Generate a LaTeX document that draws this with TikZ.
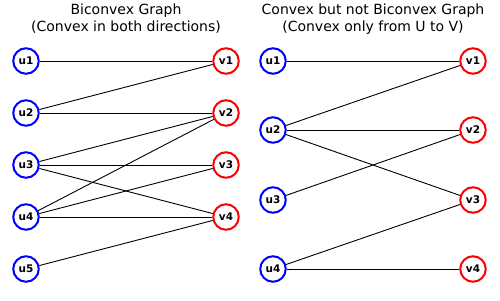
\documentclass[tikz,border=0pt]{standalone}
\usepackage{fontspec}
\setmainfont{DejaVu Sans}
\begin{document}
\begin{tikzpicture}[x=1pt,y=-1pt,
  gnode/.style={circle,line width=2pt,fill=white,minimum size=25.5pt,inner sep=0pt,font=\fontsize{10.5}{12}\selectfont\bfseries},
  unode/.style={gnode,draw=blue},
  vnode/.style={gnode,draw=red},
  edge/.style={line width=0.9pt,black},
  title/.style={align=center,font=\fontsize{14}{17}\selectfont}]
\useasboundingbox (0,0) rectangle (500,300);
\node[title] (t1) at (126,19) {Biconvex Graph\\(Convex in both directions)};
\node[title] (t2) at (373,19) {Convex but not Biconvex Graph\\(Convex only from U to V)};
% left graph
\node[unode] (a1) at (26,61) {u1};
\node[unode] (a2) at (26,113) {u2};
\node[unode] (a3) at (26,165) {u3};
\node[unode] (a4) at (26,217) {u4};
\node[unode] (a5) at (26,269) {u5};
\node[vnode] (b1) at (226,61) {v1};
\node[vnode] (b2) at (226,113) {v2};
\node[vnode] (b3) at (226,165) {v3};
\node[vnode] (b4) at (226,217) {v4};
\draw[edge] (a1) -- (b1);
\draw[edge] (a2) -- (b1);
\draw[edge] (a2) -- (b2);
\draw[edge] (a3) -- (b2);
\draw[edge] (a3) -- (b3);
\draw[edge] (a3) -- (b4);
\draw[edge] (a4) -- (b2);
\draw[edge] (a4) -- (b3);
\draw[edge] (a4) -- (b4);
\draw[edge] (a5) -- (b4);
% right graph
\node[unode] (c1) at (273,61) {u1};
\node[unode] (c2) at (273,130) {u2};
\node[unode] (c3) at (273,200) {u3};
\node[unode] (c4) at (273,269) {u4};
\node[vnode] (d1) at (473,61) {v1};
\node[vnode] (d2) at (473,130) {v2};
\node[vnode] (d3) at (473,200) {v3};
\node[vnode] (d4) at (473,269) {v4};
\draw[edge] (c1) -- (d1);
\draw[edge] (c2) -- (d1);
\draw[edge] (c2) -- (d2);
\draw[edge] (c2) -- (d3);
\draw[edge] (c3) -- (d2);
\draw[edge] (c4) -- (d3);
\draw[edge] (c4) -- (d4);
\end{tikzpicture}
\end{document}
